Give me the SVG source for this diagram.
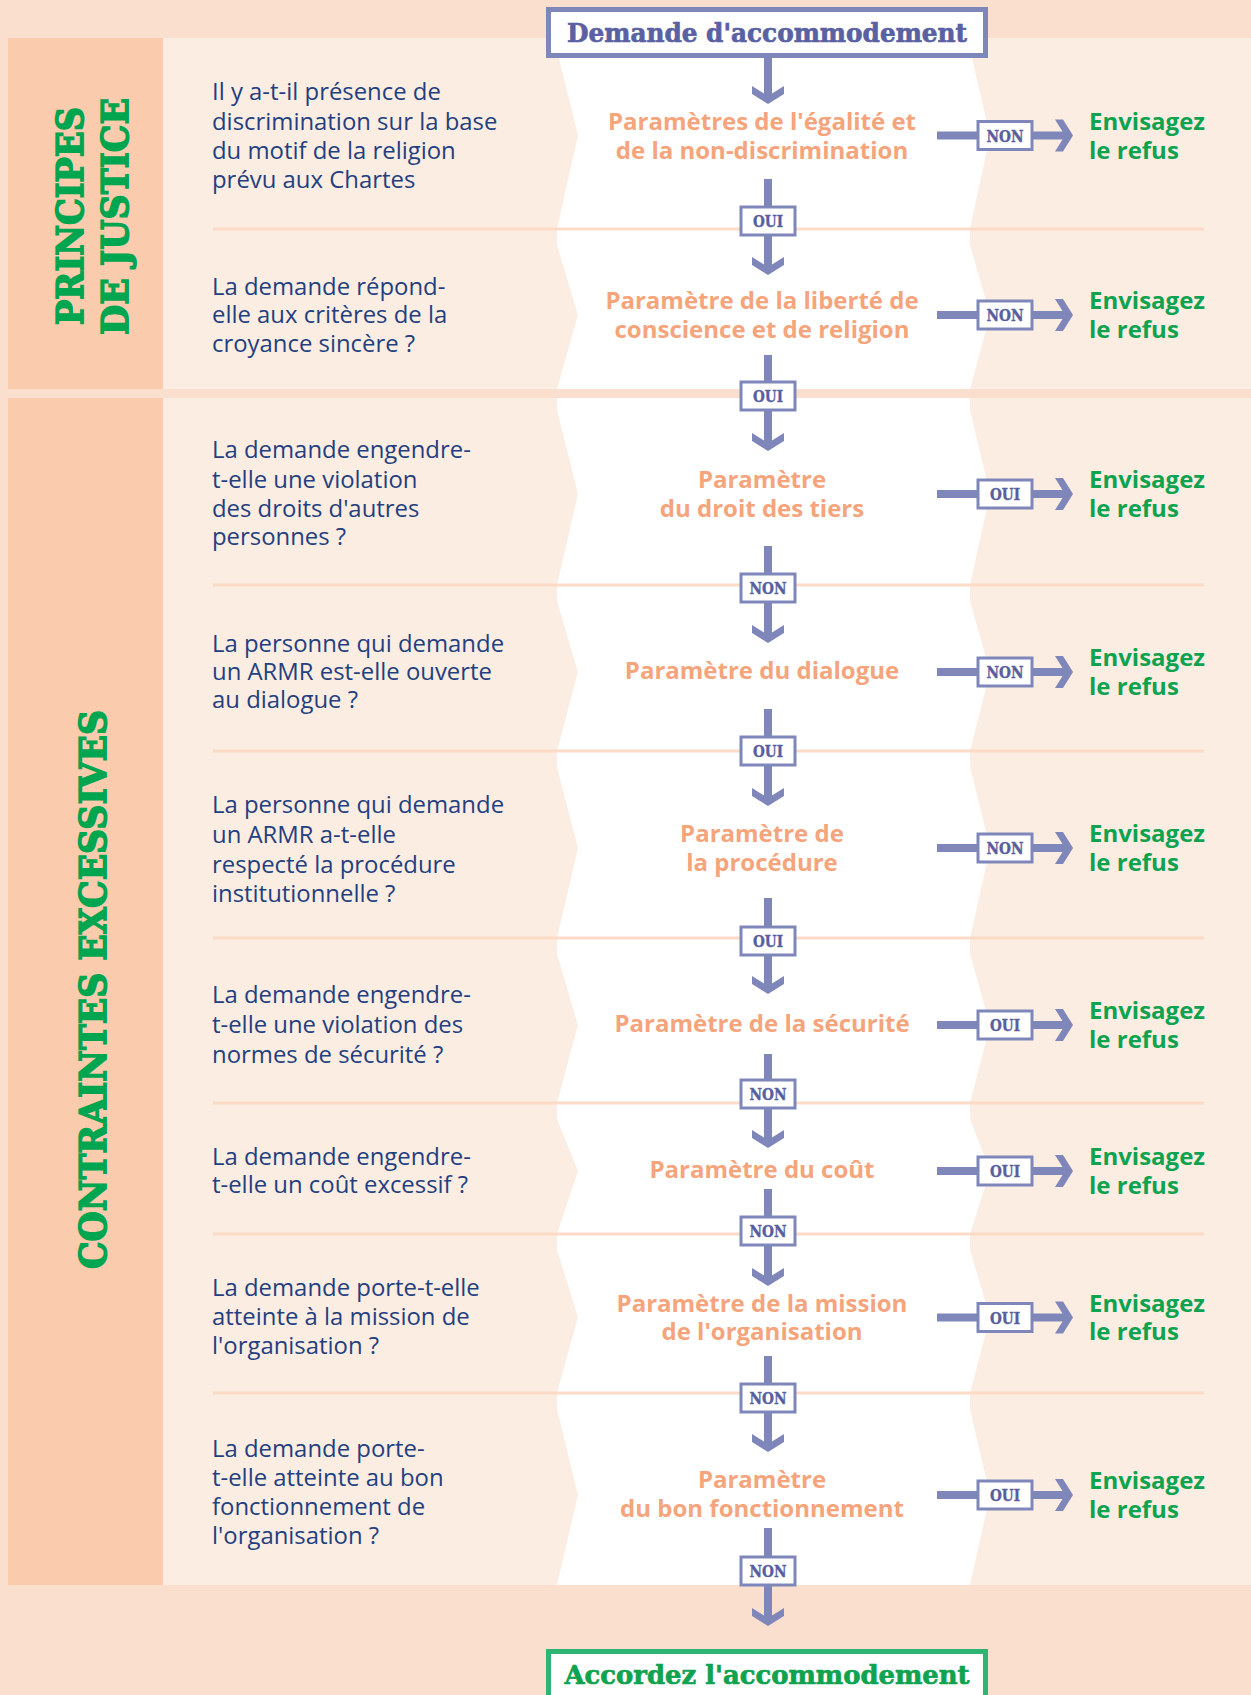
<svg xmlns="http://www.w3.org/2000/svg" xmlns:xlink="http://www.w3.org/1999/xlink" width="1251" height="1695" viewBox="0 0 1251 1695">
<style>
.q{font-family:"Open Sans","Liberation Sans",sans-serif;font-size:23.9px;fill:#233F80}
.p{font-family:"Open Sans","Liberation Sans",sans-serif;font-weight:700;font-size:24px;fill:#F5A47B;text-anchor:middle}
.r{font-family:"Open Sans","Liberation Sans",sans-serif;font-weight:700;font-size:24px;fill:#0FA34F}
.lbl{font-family:"DejaVu Serif",serif;font-weight:700;font-size:17px;fill:#585E9E;stroke:#585E9E;stroke-width:0.4;text-anchor:middle}
.box{fill:#fff;stroke:#7F87BA;stroke-width:3}
.shaft{stroke:#7F87BA;stroke-width:8;fill:none}
.head{fill:#7F87BA}
.side{font-family:"DejaVu Serif",serif;font-weight:700;font-size:37px;fill:#00A550;stroke:#00A550;stroke-width:1.6;text-anchor:middle}
.title{font-family:"DejaVu Serif",serif;font-weight:700;font-size:26px;stroke-width:0.7;text-anchor:middle}
.div{stroke:#FBDBC7;stroke-width:3}
</style>
<defs>
<polygon id="hv" points="-16,-18 -16,-10 0,0 16,-10 16,-18 0,-8"/>
<polygon id="hh" points="-18,-16 -10,-16 0,0 -10,16 -18,16 -8,0"/>
</defs>
<g id="background">
<rect x="0" y="0" width="1251" height="1695" fill="#FBDFCE"/>
<rect x="163" y="38" width="1088" height="351" fill="#FCEDE2"/>
<rect x="163" y="398" width="1088" height="1187" fill="#FCEDE2"/>
<path fill="#FFFFFF" d="M557,38 L557,50 L578,135.5 L557,229 L557,245 L578,315 L557,389 L970,389 L990,315 L970,245 L970,229 L990,135.5 L970,50 L970,38 Z"/>
<path fill="#FFFFFF" d="M557,398 L557,410 L578,494 L557,585 L557,601 L578,672 L557,751 L557,767 L578,848 L557,938 L557,954 L578,1025 L557,1103 L557,1119 L578,1171 L557,1234 L557,1250 L578,1317 L557,1393 L557,1409 L578,1495 L557,1585 L970,1585 L990,1495 L970,1409 L970,1393 L990,1317 L970,1250 L970,1234 L990,1171 L970,1119 L970,1103 L990,1025 L970,954 L970,938 L990,848 L970,767 L970,751 L990,672 L970,601 L970,585 L990,494 L970,410 L970,398 Z"/>
<g class="div">
<line x1="213" y1="229" x2="1204" y2="229"/>
<line x1="213" y1="585" x2="1204" y2="585"/>
<line x1="213" y1="751" x2="1204" y2="751"/>
<line x1="213" y1="938" x2="1204" y2="938"/>
<line x1="213" y1="1103" x2="1204" y2="1103"/>
<line x1="213" y1="1234" x2="1204" y2="1234"/>
<line x1="213" y1="1393" x2="1204" y2="1393"/>
</g>
</g>
<g id="section-principes">
<rect x="8" y="38" width="155" height="351" fill="#FBCBAE"/>
<text class="side" transform="translate(83,216) rotate(-90)" textLength="218" lengthAdjust="spacingAndGlyphs">PRINCIPES</text>
<text class="side" transform="translate(128,216.5) rotate(-90)" textLength="237" lengthAdjust="spacingAndGlyphs">DE JUSTICE</text>
</g>
<g id="section-contraintes">
<rect x="8" y="398" width="155" height="1187" fill="#FBCBAE"/>
<text class="side" font-size="38" transform="translate(106,989.5) rotate(-90)" textLength="559" lengthAdjust="spacingAndGlyphs">CONTRAINTES EXCESSIVES</text>
</g>
<g id="questions">
<g id="q1"><text class="q" x="212" y="100">Il y a-t-il présence de</text><text class="q" x="212" y="130">discrimination sur la base</text><text class="q" x="212" y="159">du motif de la religion</text><text class="q" x="212" y="188">prévu aux Chartes</text></g>
<g id="q2"><text class="q" x="212" y="295">La demande répond-</text><text class="q" x="212" y="323">elle aux critères de la</text><text class="q" x="212" y="352">croyance sincère ?</text></g>
<g id="q3"><text class="q" x="212" y="458">La demande engendre-</text><text class="q" x="212" y="488">t-elle une violation</text><text class="q" x="212" y="517">des droits d'autres</text><text class="q" x="212" y="545">personnes ?</text></g>
<g id="q4"><text class="q" x="212" y="652">La personne qui demande</text><text class="q" x="212" y="680">un ARMR est-elle ouverte</text><text class="q" x="212" y="708">au dialogue ?</text></g>
<g id="q5"><text class="q" x="212" y="813">La personne qui demande</text><text class="q" x="212" y="843">un ARMR a-t-elle</text><text class="q" x="212" y="873">respecté la procédure</text><text class="q" x="212" y="902">institutionnelle ?</text></g>
<g id="q6"><text class="q" x="212" y="1003">La demande engendre-</text><text class="q" x="212" y="1033">t-elle une violation des</text><text class="q" x="212" y="1063">normes de sécurité ?</text></g>
<g id="q7"><text class="q" x="212" y="1165">La demande engendre-</text><text class="q" x="212" y="1193">t-elle un coût excessif ?</text></g>
<g id="q8"><text class="q" x="212" y="1296">La demande porte-t-elle</text><text class="q" x="212" y="1325">atteinte à la mission de</text><text class="q" x="212" y="1354">l'organisation ?</text></g>
<g id="q9"><text class="q" x="212" y="1457">La demande porte-</text><text class="q" x="212" y="1486">t-elle atteinte au bon</text><text class="q" x="212" y="1515">fonctionnement de</text><text class="q" x="212" y="1544">l'organisation ?</text></g>
</g>
<g id="connectors">
<g class="shaft">
<line x1="768" y1="58" x2="768" y2="98"/>
<line x1="768" y1="179" x2="768" y2="269"/>
<line x1="768" y1="355" x2="768" y2="445"/>
<line x1="768" y1="546" x2="768" y2="637"/>
<line x1="768" y1="709" x2="768" y2="800"/>
<line x1="768" y1="898" x2="768" y2="988"/>
<line x1="768" y1="1054" x2="768" y2="1142"/>
<line x1="768" y1="1189" x2="768" y2="1280"/>
<line x1="768" y1="1356" x2="768" y2="1446"/>
<line x1="768" y1="1528" x2="768" y2="1620"/>
<line x1="937" y1="135.5" x2="1066" y2="135.5"/>
<line x1="937" y1="315" x2="1066" y2="315"/>
<line x1="937" y1="494" x2="1066" y2="494"/>
<line x1="937" y1="672" x2="1066" y2="672"/>
<line x1="937" y1="848" x2="1066" y2="848"/>
<line x1="937" y1="1025" x2="1066" y2="1025"/>
<line x1="937" y1="1171" x2="1066" y2="1171"/>
<line x1="937" y1="1317.5" x2="1066" y2="1317.5"/>
<line x1="937" y1="1495" x2="1066" y2="1495"/>
</g>
<g class="head">
<use href="#hv" x="768" y="104"/>
<use href="#hv" x="768" y="275"/>
<use href="#hv" x="768" y="451"/>
<use href="#hv" x="768" y="643"/>
<use href="#hv" x="768" y="806"/>
<use href="#hv" x="768" y="994"/>
<use href="#hv" x="768" y="1148"/>
<use href="#hv" x="768" y="1286"/>
<use href="#hv" x="768" y="1452"/>
<use href="#hv" x="768" y="1626"/>
<use href="#hh" x="1073" y="135.5"/>
<use href="#hh" x="1073" y="315"/>
<use href="#hh" x="1073" y="494"/>
<use href="#hh" x="1073" y="672"/>
<use href="#hh" x="1073" y="848"/>
<use href="#hh" x="1073" y="1025"/>
<use href="#hh" x="1073" y="1171"/>
<use href="#hh" x="1073" y="1317.5"/>
<use href="#hh" x="1073" y="1495"/>
</g>
<g id="vlabels">
<rect class="box" x="741" y="207" width="54" height="28"/><text class="lbl" x="768" y="227" textLength="30" lengthAdjust="spacingAndGlyphs">OUI</text>
<rect class="box" x="741" y="382" width="54" height="28"/><text class="lbl" x="768" y="402" textLength="30" lengthAdjust="spacingAndGlyphs">OUI</text>
<rect class="box" x="741" y="574" width="54" height="28"/><text class="lbl" x="768" y="594" textLength="37" lengthAdjust="spacingAndGlyphs">NON</text>
<rect class="box" x="741" y="737" width="54" height="28"/><text class="lbl" x="768" y="757" textLength="30" lengthAdjust="spacingAndGlyphs">OUI</text>
<rect class="box" x="741" y="927" width="54" height="28"/><text class="lbl" x="768" y="947" textLength="30" lengthAdjust="spacingAndGlyphs">OUI</text>
<rect class="box" x="741" y="1080" width="54" height="28"/><text class="lbl" x="768" y="1100" textLength="37" lengthAdjust="spacingAndGlyphs">NON</text>
<rect class="box" x="741" y="1217" width="54" height="28"/><text class="lbl" x="768" y="1237" textLength="37" lengthAdjust="spacingAndGlyphs">NON</text>
<rect class="box" x="741" y="1384" width="54" height="28"/><text class="lbl" x="768" y="1404" textLength="37" lengthAdjust="spacingAndGlyphs">NON</text>
<rect class="box" x="741" y="1557" width="54" height="28"/><text class="lbl" x="768" y="1577" textLength="37" lengthAdjust="spacingAndGlyphs">NON</text>
</g>
<g id="hlabels">
<rect class="box" x="978" y="121.5" width="54" height="28"/><text class="lbl" x="1005" y="141.5" textLength="37" lengthAdjust="spacingAndGlyphs">NON</text>
<rect class="box" x="978" y="301" width="54" height="28"/><text class="lbl" x="1005" y="321" textLength="37" lengthAdjust="spacingAndGlyphs">NON</text>
<rect class="box" x="978" y="480" width="54" height="28"/><text class="lbl" x="1005" y="500" textLength="30" lengthAdjust="spacingAndGlyphs">OUI</text>
<rect class="box" x="978" y="658" width="54" height="28"/><text class="lbl" x="1005" y="678" textLength="37" lengthAdjust="spacingAndGlyphs">NON</text>
<rect class="box" x="978" y="834" width="54" height="28"/><text class="lbl" x="1005" y="854" textLength="37" lengthAdjust="spacingAndGlyphs">NON</text>
<rect class="box" x="978" y="1011" width="54" height="28"/><text class="lbl" x="1005" y="1031" textLength="30" lengthAdjust="spacingAndGlyphs">OUI</text>
<rect class="box" x="978" y="1157" width="54" height="28"/><text class="lbl" x="1005" y="1177" textLength="30" lengthAdjust="spacingAndGlyphs">OUI</text>
<rect class="box" x="978" y="1303.5" width="54" height="28"/><text class="lbl" x="1005" y="1323.5" textLength="30" lengthAdjust="spacingAndGlyphs">OUI</text>
<rect class="box" x="978" y="1481" width="54" height="28"/><text class="lbl" x="1005" y="1501" textLength="30" lengthAdjust="spacingAndGlyphs">OUI</text>
</g>
</g>
<g id="start">
<rect x="548.5" y="9.5" width="437" height="46" fill="#FFFFFF" stroke="#7F87BA" stroke-width="5"/>
<text class="title" x="767" y="42" fill="#5A61A3" stroke="#5A61A3" textLength="400" lengthAdjust="spacingAndGlyphs">Demande d'accommodement</text>
</g>
<g id="params">
<g id="p1"><text class="p" x="762" y="130">Paramètres de l'égalité et</text><text class="p" x="762" y="159">de la non-discrimination</text></g>
<g id="p2"><text class="p" x="762" y="309">Paramètre de la liberté de</text><text class="p" x="762" y="338">conscience et de religion</text></g>
<g id="p3"><text class="p" x="762" y="488">Paramètre</text><text class="p" x="762" y="517">du droit des tiers</text></g>
<g id="p4"><text class="p" x="762" y="679">Paramètre du dialogue</text></g>
<g id="p5"><text class="p" x="762" y="842">Paramètre de</text><text class="p" x="762" y="871">la procédure</text></g>
<g id="p6"><text class="p" x="762" y="1032">Paramètre de la sécurité</text></g>
<g id="p7"><text class="p" x="762" y="1178">Paramètre du coût</text></g>
<g id="p8"><text class="p" x="762" y="1312">Paramètre de la mission</text><text class="p" x="762" y="1340">de l'organisation</text></g>
<g id="p9"><text class="p" x="762" y="1488">Paramètre</text><text class="p" x="762" y="1517">du bon fonctionnement</text></g>
</g>
<g id="refus">
<g id="r1"><text class="r" x="1089" y="130">Envisagez</text><text class="r" x="1089" y="159">le refus</text></g>
<g id="r2"><text class="r" x="1089" y="309">Envisagez</text><text class="r" x="1089" y="338">le refus</text></g>
<g id="r3"><text class="r" x="1089" y="488">Envisagez</text><text class="r" x="1089" y="517">le refus</text></g>
<g id="r4"><text class="r" x="1089" y="666">Envisagez</text><text class="r" x="1089" y="695">le refus</text></g>
<g id="r5"><text class="r" x="1089" y="842">Envisagez</text><text class="r" x="1089" y="871">le refus</text></g>
<g id="r6"><text class="r" x="1089" y="1019">Envisagez</text><text class="r" x="1089" y="1048">le refus</text></g>
<g id="r7"><text class="r" x="1089" y="1165">Envisagez</text><text class="r" x="1089" y="1194">le refus</text></g>
<g id="r8"><text class="r" x="1089" y="1312">Envisagez</text><text class="r" x="1089" y="1340">le refus</text></g>
<g id="r9"><text class="r" x="1089" y="1489">Envisagez</text><text class="r" x="1089" y="1518">le refus</text></g>
</g>
<g id="end">
<rect x="548.5" y="1651.5" width="437" height="60" fill="#FFFFFF" stroke="#2FB573" stroke-width="5"/>
<text class="title" x="767" y="1684" fill="#0FA34F" stroke="#0FA34F" textLength="405" lengthAdjust="spacingAndGlyphs">Accordez l'accommodement</text>
</g>
</svg>
